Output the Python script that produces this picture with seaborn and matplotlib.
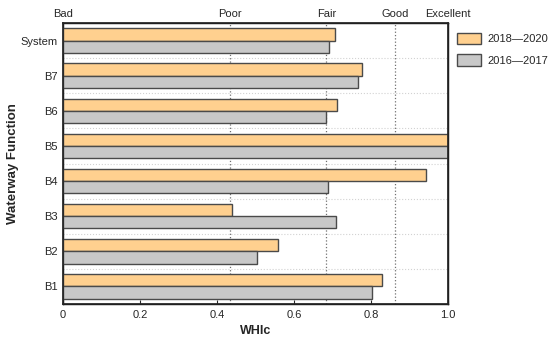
import matplotlib
matplotlib.use("Agg")
import matplotlib.pyplot as plt
import seaborn as sns
import pandas as pd

# -----------------------------
# Data
# -----------------------------
functions = ["System", "B7", "B6", "B5", "B4", "B3", "B2", "B1"]
whic_2018_2020 = [0.706, 0.777, 0.711, 1.0, 0.944, 0.440, 0.558, 0.828]
whic_2016_2017 = [0.692, 0.767, 0.683, 1.0, 0.689, 0.708, 0.505, 0.803]
periods = ["2018\u20142020", "2016\u20142017"]

class_names = ["Bad", "Poor", "Fair", "Good", "Excellent"]
class_bounds = [0.0, 0.433, 0.684, 0.862, 1.0]

df = pd.DataFrame({
    "Function": functions * 2,
    "WHIc": whic_2018_2020 + whic_2016_2017,
    "Period": [periods[0]] * len(functions) + [periods[1]] * len(functions),
})

sns.set_theme(style="white")
plt.rcParams["font.family"] = ["Liberation Sans", "DejaVu Sans"]

fig = plt.figure(figsize=(5.5, 3.4), dpi=100)
ax = fig.add_axes([63 / 550, 1 - 304 / 340, 385 / 550, 281 / 340])

sns.barplot(data=df, y="Function", x="WHIc", hue="Period", order=functions,
            hue_order=periods, palette=["#FFD08F", "#C8C8C8"], saturation=1,
            orient="h", width=0.7, edgecolor="#4A4A4A", linewidth=1.0,
            ax=ax, zorder=3)

ax.set_xlim(0, 1.0)
ax.set_ylim(len(functions) - 0.5, -0.5)
ax.set_xticks([0, 0.2, 0.4, 0.6, 0.8, 1.0])
ax.set_xticklabels(["0", "0.2", "0.4", "0.6", "0.8", "1.0"], fontsize=8)
ax.tick_params(axis="x", bottom=True, direction="in", length=3, width=0.8, pad=4)
ax.tick_params(axis="y", left=False, length=0, labelsize=8, pad=4)
ax.set_xlabel("WHIc", fontsize=9, fontweight="bold", labelpad=4)
ax.set_ylabel("Waterway Function", fontsize=9.5, fontweight="bold")
ax.yaxis.set_label_coords(-44 / 385, 0.5)

# category separators
for i in range(len(functions) - 1):
    ax.axhline(i + 0.5, color="#D2D2D2", linestyle=":", linewidth=0.8, zorder=1)
# class boundaries
for b in class_bounds[1:-1]:
    ax.axvline(b, color="#707070", linestyle=":", linewidth=0.9, zorder=1)

for s in ax.spines.values():
    s.set_color("black")
    s.set_linewidth(1.0)

# class names on top
top = ax.twiny()
top.set_xlim(ax.get_xlim())
top.set_xticks(class_bounds)
top.set_xticklabels(class_names, fontsize=8)
top.tick_params(axis="x", top=False, length=0, pad=3)
top.grid(False)

leg = ax.legend(loc="upper left", bbox_to_anchor=(394 / 385, 0.965), frameon=False,
                fontsize=8, handlelength=2.15, handleheight=1.2,
                labelspacing=0.9, handletextpad=0.6, borderaxespad=0,
                borderpad=0)

fig.savefig("out.png", dpi=100)
